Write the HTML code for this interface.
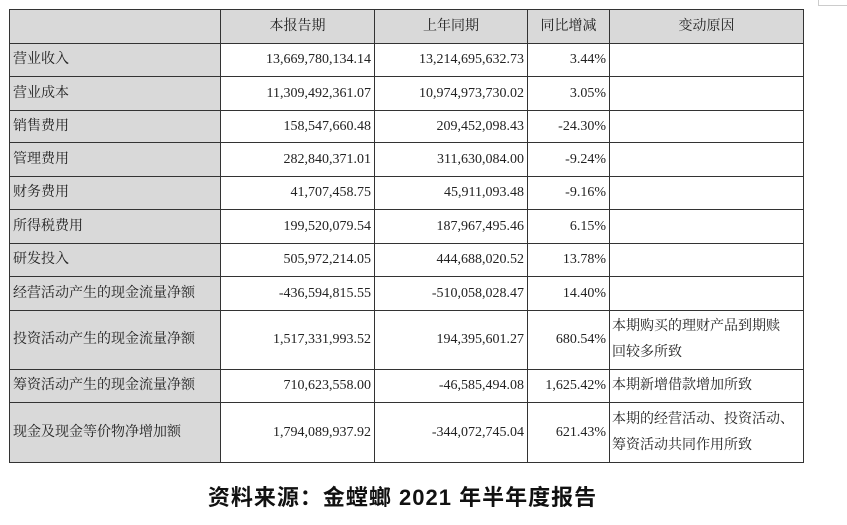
<!DOCTYPE html>
<html><head><meta charset="utf-8"><style>
body{margin:0;width:847px;height:525px;background:#fff;position:relative;overflow:hidden;font-family:"Liberation Serif","Noto Serif CJK SC",serif;color:#222;}
.c{position:absolute;box-sizing:border-box;border:1px solid #333;font-size:14px;display:flex;align-items:center;padding:0 3px;line-height:22px;}
.g{background:#d9d9d9;}
.h{justify-content:center;}
.r{justify-content:flex-end;}
.cap{position:absolute;left:200px;top:480px;width:405px;text-align:center;font-family:"Liberation Sans","Noto Sans CJK SC",sans-serif;font-weight:bold;font-size:22px;letter-spacing:1px;color:#111;white-space:nowrap;}
</style></head><body>
<div style="position:absolute;left:818px;top:-1px;width:30px;height:5px;border:1px solid #ccc;"></div>
<div id="t"></div>
<div class="cap">资料来源：金螳螂 2021 年半年度报告</div>
<script>
var xs=[9,220,374,527,609,803];
var ys=[9,43,76,110,142,176,209,243,276,310,369,402,462];
var rows=[
["","本报告期","上年同期","同比增减","变动原因"],
["营业收入","13,669,780,134.14","13,214,695,632.73","3.44%",""],
["营业成本","11,309,492,361.07","10,974,973,730.02","3.05%",""],
["销售费用","158,547,660.48","209,452,098.43","-24.30%",""],
["管理费用","282,840,371.01","311,630,084.00","-9.24%",""],
["财务费用","41,707,458.75","45,911,093.48","-9.16%",""],
["所得税费用","199,520,079.54","187,967,495.46","6.15%",""],
["研发投入","505,972,214.05","444,688,020.52","13.78%",""],
["经营活动产生的现金流量净额","-436,594,815.55","-510,058,028.47","14.40%",""],
["投资活动产生的现金流量净额","1,517,331,993.52","194,395,601.27","680.54%","本期购买的理财产品到期赎<br>回较多所致"],
["筹资活动产生的现金流量净额","710,623,558.00","-46,585,494.08","1,625.42%","本期新增借款增加所致"],
["现金及现金等价物净增加额","1,794,089,937.92","-344,072,745.04","621.43%","本期的经营活动、投资活动、<br>筹资活动共同作用所致"]];
var h="";
for(var i=0;i<rows.length;i++)for(var j=0;j<5;j++){
var cls="c";
if(i==0){cls+=" g h";}else if(j==0){cls+=" g";}else if(j<4){cls+=" r";}
h+='<div class="'+cls+'" style="left:'+xs[j]+'px;top:'+ys[i]+'px;width:'+(xs[j+1]-xs[j]+1)+'px;height:'+(ys[i+1]-ys[i]+1)+'px;'+(j==4&&i>0?'padding:0 2px;white-space:nowrap;line-height:26px;':'')+'"><span>'+rows[i][j]+'</span></div>';}
document.getElementById("t").innerHTML=h;
</script>
</body></html>
